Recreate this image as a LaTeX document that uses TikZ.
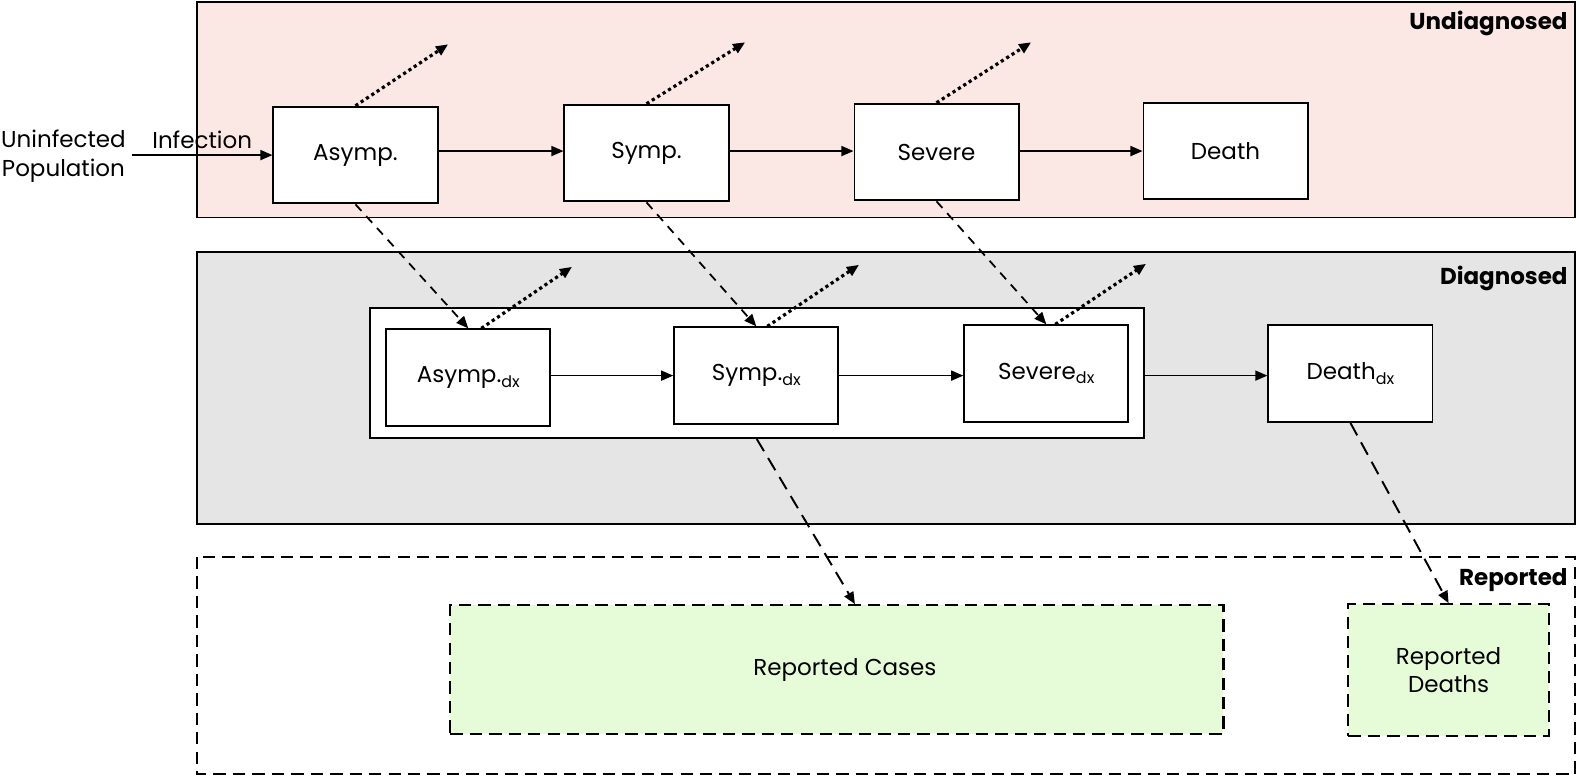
\documentclass[tikz,border=0pt]{standalone}
\usepackage{fontspec}
\setmainfont{Poppins}
\usetikzlibrary{arrows.meta}
\definecolor{undiagpink}{HTML}{FBE8E5}
\definecolor{diaggray}{HTML}{E5E5E5}
\definecolor{reportgreen}{HTML}{E6FBD7}
\newcommand{\dx}{\raisebox{-0.35ex}{\fontsize{9}{9}\selectfont dx}}
\tikzset{
  box/.style={draw, fill=white, line width=1.1pt, minimum width=3.26cm, minimum height=1.92cm},
  flow/.style={-{Triangle[length=0.24cm,width=0.2cm]}, line width=0.85pt},
  diagflow/.style={flow, line width=1pt, dash pattern=on 5pt off 4pt},
  repflow/.style={flow, line width=1.1pt, dash pattern=on 8pt off 4.5pt},
  leave/.style={flow, line width=1.8pt, dash pattern=on 1.8pt off 1.8pt},
  repbox/.style={draw, fill=reportgreen, line width=1.2pt, dash pattern=on 7pt off 4pt, align=center},
  panel/.style={anchor=east, inner sep=0pt, font=\fontsize{13}{16}\selectfont\bfseries}
}
\begin{document}
\begin{tikzpicture}[x=0.02cm, y=-0.02cm, font=\fontsize{13}{16}\selectfont]
  \useasboundingbox (0,0) rectangle (1568,770.6);
  % panels
  \draw[fill=undiagpink, line width=1.1pt] (196,2) rectangle (1564,216);
  \draw[fill=diaggray, line width=1.1pt] (196,250) rectangle (1564,520);
  \draw[line width=1.2pt, dash pattern=on 7pt off 4pt] (196,553) rectangle (1564,769);
  \node[panel] at (1557,23) {Undiagnosed};
  \node[panel] at (1557,277) {Diagnosed};
  \node[panel] at (1557,576) {Reported};
  %
  % undiagnosed
  \node[box] (asymp) at (353,154) {Asymp.};
  \node[box] (symp) at (642,152) {Symp.};
  \node[box] (severe) at (930,151) {Severe};
  \node[box] (death) at (1217,150) {Death};
  \node[align=center, inner sep=0pt] (uninf) at (63,155) {Uninfected\\Population};
  \coordinate (infstart) at (131,154);
  \draw[flow] (infstart) -- node[above, pos=0.5, inner sep=3pt] {Infection} (asymp);
  \draw[flow] (asymp.east |- death) -- (symp.west |- death);
  \draw[flow] (symp.east |- death) -- (severe.west |- death);
  \draw[flow] (severe.east |- death) -- (death);
  \coordinate (outa) at (445,44);
  \coordinate (outs) at (740,42);
  \coordinate (outv) at (1024,42);
  \draw[leave] (asymp.north) -- (outa);
  \draw[leave] (symp.north) -- (outs);
  \draw[leave] (severe.north) -- (outv);
  %
  % diagnosed
  \node[draw, fill=white, line width=1.1pt, minimum width=15.38cm, minimum height=2.58cm] (group) at (751.5,370.5) {};
  \node[box] (asympdx) at (465,375) {Asymp.\dx};
  \node[box] (sympdx) at (751,373) {Symp.\dx};
  \node[box] (severedx) at (1039,371) {Severe\dx};
  \node[box] (deathdx) at (1341,371) {Death\dx};
  \draw[flow] (asympdx.east |- sympdx) -- (sympdx);
  \draw[flow] (sympdx) -- (severedx.west |- sympdx);
  \draw[flow] (group.east |- sympdx) -- (deathdx.west |- sympdx);
  \draw[diagflow] (asymp.south) -- (asympdx.north);
  \draw[diagflow] (symp.south) -- (sympdx.north);
  \draw[diagflow] (severe.south) -- (severedx.north);
  \coordinate (outadx) at (568,265);
  \coordinate (outsdx) at (853,263);
  \coordinate (outvdx) at (1138,262);
  \draw[leave] ([xshift=0.26cm]asympdx.north) -- (outadx);
  \draw[leave] ([xshift=0.22cm]sympdx.north) -- (outsdx);
  \draw[leave] ([xshift=0.18cm]severedx.north) -- (outvdx);
  %
  % reported
  \node[repbox, minimum width=15.36cm, minimum height=2.56cm] (cases) at (831,665) {\hspace{0.32cm}Reported Cases};
  \node[repbox, minimum width=3.98cm, minimum height=2.62cm] (deaths) at (1438.5,665.5) {Reported\\Deaths};
  \draw[repflow] (group.south) -- ([xshift=0.36cm]cases.north);
  \draw[repflow] (deathdx.south) -- (deaths.north);
\end{tikzpicture}
\end{document}
